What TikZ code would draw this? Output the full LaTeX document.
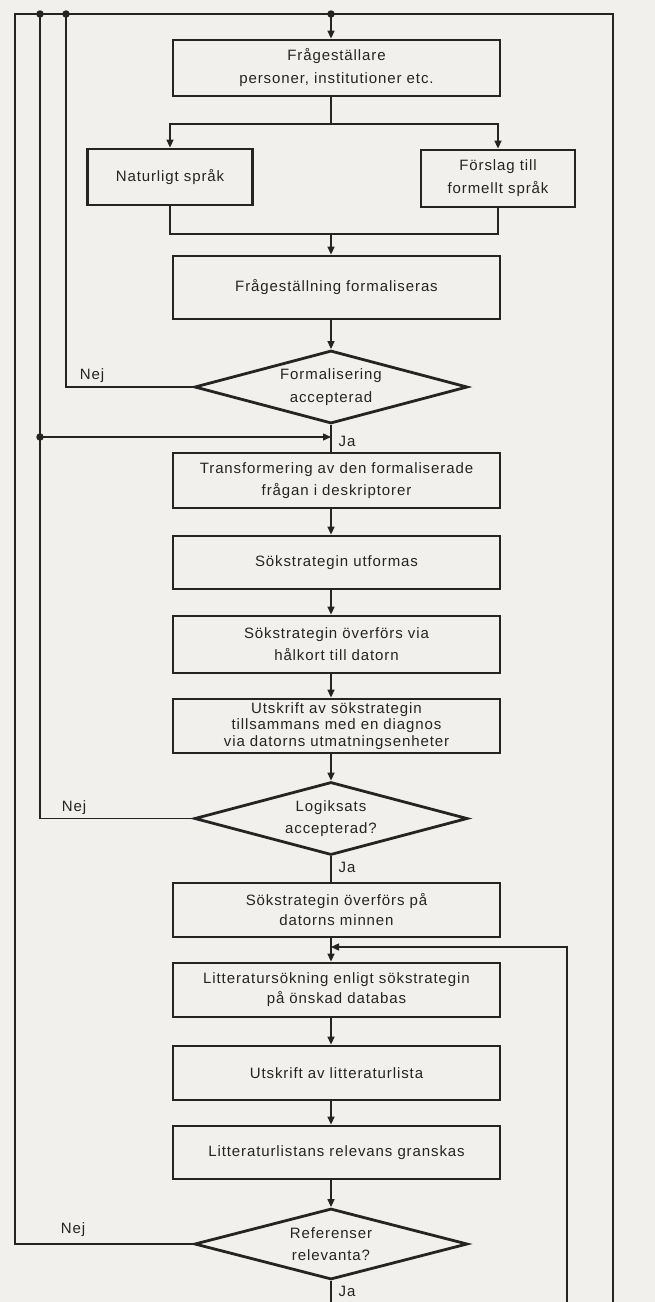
\documentclass[tikz,border=0pt]{standalone}
\usepackage{fontspec}
\newfontfamily\lbl{Liberation Sans}[LetterSpace=6]
\usetikzlibrary{arrows.meta,shapes.geometric}
\definecolor{ink}{RGB}{36,36,36}
\definecolor{paper}{RGB}{241,240,236}
\begin{document}
\begin{tikzpicture}[x=1pt,y=-1pt,
  line/.style={draw=ink, line width=1.4pt},
  arr/.style={line, -{Triangle[length=8pt,width=7pt]}},
  box/.style={draw=ink, line width=2.8pt, rectangle, align=center, inner sep=0pt,
    minimum width=327pt, text=ink, font=\lbl\fontsize{15}{21}\selectfont},
  dec/.style={diamond, draw=ink, line width=2.8pt, aspect=3.7, inner sep=0pt,
    minimum width=273pt, minimum height=73pt, align=center, text=ink,
    font=\lbl\fontsize{15}{22.5}\selectfont},
  lab/.style={inner sep=0pt, text=ink, font=\lbl\fontsize{15}{18}\selectfont},
  jdot/.style={circle, fill=ink, inner sep=0pt, minimum size=7.5pt}]
\fill[paper] (0,0) rectangle (655,1302);
\useasboundingbox (0,0) rectangle (655,1302);
% flow x
\coordinate (fl) at (331,0);
% boxes
\node[box, minimum height=56pt, font=\lbl\fontsize{15}{23}\selectfont] (fq) at (336.5,68) {Frågeställare\\personer, institutioner etc.};
\node[box, minimum width=165pt, minimum height=56pt] (nat) at (170,177) {Naturligt språk};
\node[box, minimum width=154pt, minimum height=57pt, font=\lbl\fontsize{15}{23}\selectfont] (fors) at (498,178.5) {Förslag till\\formellt språk};
\node[box, minimum height=63pt] (fform) at (336.5,287.5) {Frågeställning formaliseras};
\node[dec] (d1) at (331,387) {Formalisering\\accepterad};
\node[box, minimum height=55pt, font=\lbl\fontsize{15}{22}\selectfont] (trans) at (336.5,480.5) {Transformering av den formaliserade\\frågan i deskriptorer};
\node[box, minimum height=53pt] (sok1) at (336.5,562.5) {Sökstrategin utformas};
\node[box, minimum height=57pt, font=\lbl\fontsize{15}{22}\selectfont] (sok2) at (336.5,644.5) {Sökstrategin överförs via\\hålkort till datorn};
\node[box, minimum height=54pt, font=\lbl\fontsize{15}{16.5}\selectfont] (utskr) at (336.5,726) {Utskrift av sökstrategin\\tillsammans med en diagnos\\via datorns utmatningsenheter};
\node[dec] (d2) at (331,818.5) {Logiksats\\accepterad?};
\node[box, minimum height=54pt, font=\lbl\fontsize{15}{20}\selectfont] (sok3) at (336.5,910) {Sökstrategin överförs på\\datorns minnen};
\node[box, minimum height=54pt, font=\lbl\fontsize{15}{20}\selectfont] (litsok) at (336.5,990) {Litteratursökning enligt sökstrategin\\på önskad databas};
\node[box, minimum height=54pt] (utlit) at (336.5,1073) {Utskrift av litteraturlista};
\node[box, minimum height=53pt] (litrel) at (336.5,1152.5) {Litteraturlistans relevans granskas};
\node[dec, minimum height=71pt] (d3) at (331,1244) {Referenser\\relevanta?};
% labels
\node[lab] (n1) at (92,376) {Nej};
\node[lab] (ja1) at (347,441) {Ja};
\node[lab] (n2) at (74,808) {Nej};
\node[lab] (ja2) at (347,867) {Ja};
\node[lab] (n3) at (73,1230) {Nej};
\node[lab] (ja3) at (347,1291) {Ja};
% frame and junctions
\coordinate (tl) at (15,14);
\coordinate (tr) at (613,14);
\coordinate (br) at (613,1302);
\node[jdot] (t1) at (40,14) {};
\node[jdot] (t2) at (66,14) {};
\node[jdot] (t3) at (331,14) {};
\node[jdot] (j1) at (40,437) {};
\draw[line] (br) -- (tr) -- (tl) |- (d3.west);
\draw[line] (t1.center) |- (d2.west);
\draw[line] (t2.center) |- (d1.west);
\draw[arr] (j1.center) -- (j1 -| fl);
\draw[arr] (t3.center) -- (fq.north -| fl);
% split and merge
\coordinate (s1) at (331,124);
\coordinate (m1) at (331,234);
\draw[line] (fq.south -| fl) -- (s1);
\draw[arr] (s1) -| (nat.north);
\draw[arr] (s1) -| (fors.north);
\draw[line] (nat.south) |- (m1);
\draw[line] (fors.south) |- (m1);
\draw[arr] (m1) -- (fform.north -| fl);
% main flow
\draw[arr] (fform.south -| fl) -- (d1.north);
\draw[line] (d1.south) -- (trans.north -| fl);
\draw[arr] (trans.south -| fl) -- (sok1.north -| fl);
\draw[arr] (sok1.south -| fl) -- (sok2.north -| fl);
\draw[arr] (sok2.south -| fl) -- (utskr.north -| fl);
\draw[arr] (utskr.south -| fl) -- (d2.north);
\draw[line] (d2.south) -- (sok3.north -| fl);
\draw[arr] (sok3.south -| fl) -- (litsok.north -| fl);
\draw[arr] (litsok.south -| fl) -- (utlit.north -| fl);
\draw[arr] (utlit.south -| fl) -- (litrel.north -| fl);
\draw[arr] (litrel.south -| fl) -- (d3.north);
% loop and exits
\coordinate (lb) at (567,1302);
\coordinate (lt) at (567,947);
\coordinate (bx) at (331,1302);
\draw[arr] (lb) -- (lt) -- (lt -| fl);
\draw[line] (d3.south) -- (bx);
\end{tikzpicture}
\end{document}
